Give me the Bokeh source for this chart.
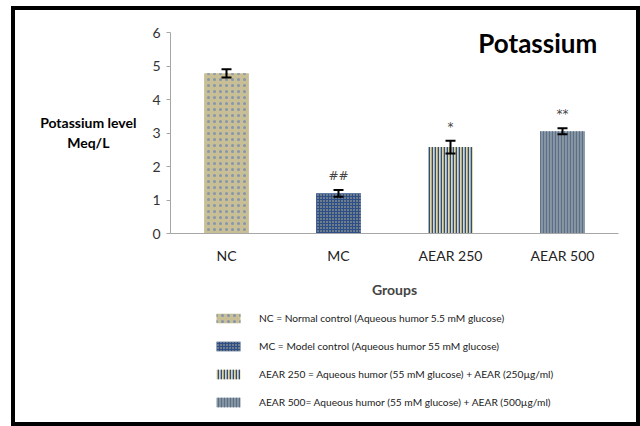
from bokeh.plotting import figure
from bokeh.layouts import column, row
from bokeh.models import (FactorRange, Range1d, ColumnDataSource, Whisker, Label,
                          Legend, LegendItem, TeeHead)
from bokeh.core.properties import value
from bokeh.embed import file_html
from bokeh.resources import INLINE

# ---- data ----
groups = ["NC", "MC", "AEAR 250", "AEAR 500"]
means = [4.78, 1.20, 2.58, 3.05]
errors = [0.12, 0.10, 0.19, 0.09]
marks = ["", "##", "*", "**"]
legend_labels = [
    "NC = Normal control (Aqueous humor 5.5 mM glucose)",
    "MC = Model control (Aqueous humor 55 mM glucose)",
    "AEAR 250 = Aqueous humor (55 mM glucose) + AEAR (250µg/ml)",
    "AEAR 500= Aqueous humor (55 mM glucose) + AEAR (500µg/ml)",
]
y_ticks = [0, 1, 2, 3, 4, 5, 6]
y_label_lines = ["Potassium level", "Meq/L"]
x_label = "Groups"
title_text = "Potassium"

FONT = "Lato"

# ---- styles per bar ----
styles = [
    dict(fill_color="#C9BF96", hatch_pattern="dot", hatch_color="#8595AA", hatch_scale=6, hatch_weight=0.8),
    dict(fill_color="#2D4E86", hatch_pattern="dot", hatch_color="#CFC394", hatch_scale=3, hatch_weight=1.3),
    dict(fill_color="#E2D5A2", hatch_pattern="vertical_line", hatch_color="#2A4D8C", hatch_scale=3, hatch_weight=1.6),
    dict(fill_color="#8896A3", hatch_pattern="vertical_line", hatch_color="#5B6F88", hatch_scale=3, hatch_weight=1.2),
]

TOP_H = 292
BT, BB = 22, 69
yr = Range1d(0, 6)

# ---- main chart ----
p = figure(x_range=FactorRange(*groups, range_padding=0), y_range=yr,
           width=491, height=TOP_H, output_backend="svg", toolbar_location=None,
           min_border_left=25, min_border_right=18, min_border_top=BT,
           min_border_bottom=BB)
p.outline_line_color = None
p.xgrid.visible = False
p.ygrid.visible = False

renderers = []
for i, g in enumerate(groups):
    src = ColumnDataSource(dict(x=[g], top=[means[i]]))
    r = p.vbar(x="x", top="top", width=0.4, source=src, line_color=None, **styles[i])
    renderers.append(r)

err_src = ColumnDataSource(dict(
    x=groups,
    upper=[m + e for m, e in zip(means, errors)],
    lower=[m - e for m, e in zip(means, errors)],
))
wh = Whisker(base="x", upper="upper", lower="lower", source=err_src,
             line_color="black", line_width=2, level="overlay",
             upper_head=TeeHead(size=10, line_width=2, line_color="black"),
             lower_head=TeeHead(size=10, line_width=2, line_color="black"))
p.add_layout(wh)

mark_src = ColumnDataSource(dict(
    x=groups,
    y=[m + e + 0.42 for m, e in zip(means, errors)],
    t=marks,
))
p.text(x="x", y="y", text="t", source=mark_src, text_align="center",
       text_baseline="middle", text_font=value("DejaVu Sans"),
       text_font_size="12px", text_color="#444444")

p.yaxis.ticker = y_ticks
p.yaxis.axis_line_color = "#A6A6A6"
p.yaxis.major_tick_line_color = "#A6A6A6"
p.yaxis.major_tick_out = 4
p.yaxis.major_tick_in = 0
p.yaxis.minor_tick_line_color = None
p.yaxis.major_label_text_font = FONT
p.yaxis.major_label_text_font_size = "14px"
p.yaxis.major_label_text_color = "#333333"
p.yaxis.major_label_standoff = 6

p.xaxis.axis_line_color = "#A6A6A6"
p.xaxis.major_tick_line_color = None
p.xaxis.minor_tick_line_color = None
p.xaxis.major_label_text_font = FONT
p.xaxis.major_label_text_font_size = "14px"
p.xaxis.major_label_text_color = "#222222"
p.xaxis.major_label_standoff = 7
p.xaxis.axis_label = x_label
p.xaxis.axis_label_text_font = FONT
p.xaxis.axis_label_text_font_style = "bold"
p.xaxis.axis_label_text_font_size = "14px"
p.xaxis.axis_label_standoff = 14

p.add_layout(Label(x=3.81, y=5.70, text=title_text, text_align="right",
                   text_baseline="middle", text_font=FONT, text_font_style="bold",
                   text_font_size="26px", text_color="black"))

# ---- left panel with the horizontal y-axis title ----
pl = figure(width=130, height=TOP_H, x_range=(0, 1), y_range=yr,
            output_backend="svg", toolbar_location=None,
            x_axis_location=None, y_axis_location=None,
            min_border_left=0, min_border_right=0, min_border_top=BT,
            min_border_bottom=BB)
pl.outline_line_color = None
pl.grid.visible = False
for txt, yy in zip(y_label_lines, [3.32, 2.72]):
    pl.add_layout(Label(x=0.56, y=yy, text=txt, text_align="center",
                        text_baseline="middle", text_font=FONT,
                        text_font_style="bold", text_font_size="14px",
                        text_color="black"))

# ---- legend panel ----
pg = figure(width=621, height=120, x_range=(0, 1), y_range=(0, 1),
            output_backend="svg", toolbar_location=None,
            x_axis_location=None, y_axis_location=None, min_border=0)
pg.outline_line_color = None
pg.grid.visible = False
leg_rs = [pg.vbar(x=[0.5], top=[0], bottom=[0], width=0.0, line_color=None, **st)
          for st in styles]
items = [LegendItem(label=lab, renderers=[r]) for lab, r in zip(legend_labels, leg_rs)]
legend = Legend(items=items, location=(198, 14), orientation="vertical",
                glyph_width=30, glyph_height=12, label_standoff=16, spacing=16,
                padding=0, margin=0, border_line_color=None,
                background_fill_alpha=0, label_text_font=FONT,
                label_text_font_size="10.2px", label_text_color="#222222")
pg.add_layout(legend)

layout = column(row(pl, p), pg,
                styles={"border": "4px solid black", "margin-left": "11px",
                        "margin-top": "6px", "background-color": "white"})

open("out.html", "w").write(file_html(layout, INLINE))
